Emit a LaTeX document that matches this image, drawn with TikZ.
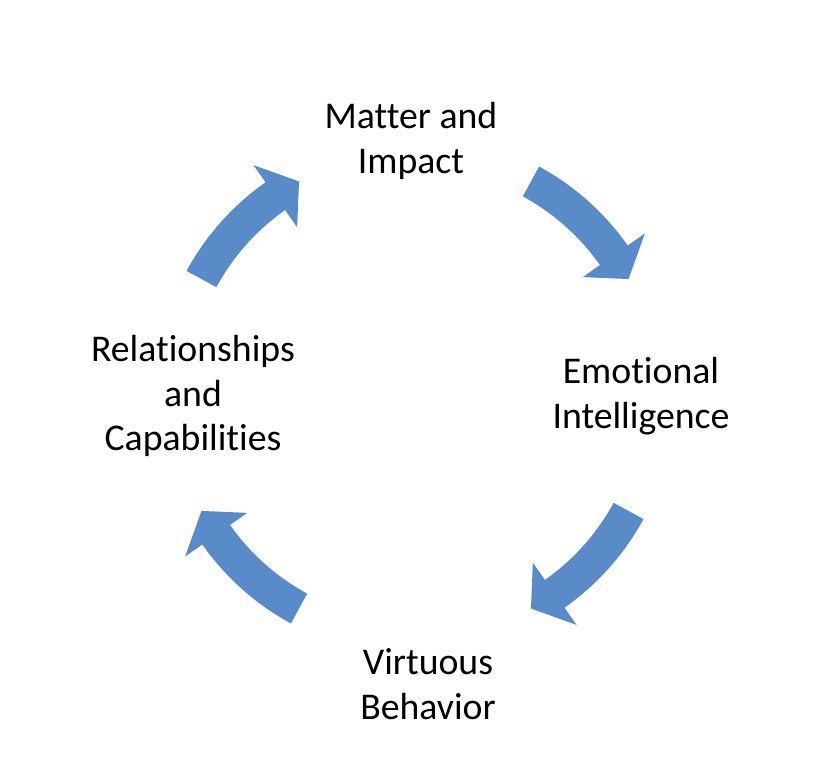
\documentclass[tikz,border=0pt]{standalone}
\usepackage{fontspec}
\setmainfont{Carlito}[RawFeature={-liga;-clig;-calt}]
\definecolor{cycleblue}{RGB}{89,139,201}
\tikzset{
  label text/.style={align=center,inner sep=0pt,font=\fontsize{21.5}{25.5}\selectfont},
  block arrow/.style={fill=cycleblue,draw=none}
}
\begin{document}
\begin{tikzpicture}[x=0.02cm,y=0.02cm]
\useasboundingbox (-415,-388) rectangle (422,395);
\coordinate (c) at (0,0);

\node[label text] (matter) at (-4,254) {Matter and\\Impact};
\node[label text] (emotional) at (226,-1) {Emotional\\Intelligence};
\node[label text] (virtuous) at (13,-289) {Virtuous\\Behavior};
\node[label text] (relations) at (-222,-1) {Relationships\\and\\Capabilities};

\foreach \a in {135,45,-45,-135}
{
\fill[block arrow,shift={(c)}] (\a+16.5:260) arc[start angle=\a+16.5,end angle=\a-9.9,radius=260]
  -- (\a-9.9:281) -- (\a-16.5:243) -- (\a-9.9:205) -- (\a-9.9:226)
  arc[start angle=\a-9.9,end angle=\a+16.5,radius=226] -- cycle;
}
\end{tikzpicture}
\end{document}
